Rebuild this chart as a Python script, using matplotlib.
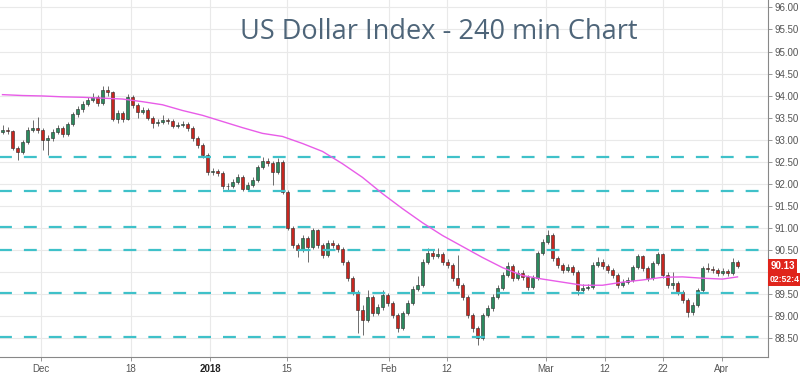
import matplotlib
matplotlib.use("Agg")
import matplotlib.pyplot as plt
import matplotlib.transforms as mtransforms
import numpy as np

# 240 min candles, Dec 2017 - Apr 2018 (one entry per candle)
first_open = 93.18
closes = [93.22, 93.19, 92.81, 92.72, 92.94, 93.22, 93.26, 93.22, 92.99, 93.03,
          93.17, 93.26, 93.13, 93.35, 93.58, 93.69, 93.81, 93.90, 93.97, 93.83,
          94.13, 94.08, 93.47, 93.60, 93.47, 93.97, 93.78, 93.63, 93.67, 93.49,
          93.38, 93.40, 93.44, 93.42, 93.31, 93.33, 93.35, 93.26, 93.03, 92.88,
          92.65, 92.26, 92.28, 92.24, 91.94, 91.94, 92.03, 92.15, 91.88, 91.97,
          92.08, 92.38, 92.51, 92.47, 92.26, 92.49, 91.81, 90.99, 90.60, 90.49,
          90.76, 90.56, 90.94, 90.60, 90.38, 90.65, 90.60, 90.51, 90.22, 89.85,
          89.53, 89.13, 88.90, 89.42, 89.06, 89.19, 89.47, 89.28, 89.01, 88.72,
          89.06, 89.28, 89.60, 89.69, 90.22, 90.42, 90.35, 90.40, 90.22, 90.15,
          89.85, 89.69, 89.42, 89.01, 88.72, 88.49, 89.01, 89.17, 89.42, 89.63,
          89.92, 90.13, 89.85, 89.97, 89.88, 89.65, 89.85, 90.42, 90.67, 90.83,
          90.31, 90.15, 90.03, 90.10, 89.99, 89.58, 89.63, 89.65, 90.15, 90.22,
          90.13, 90.03, 89.92, 89.69, 89.76, 89.81, 90.10, 90.35, 90.08, 89.85,
          90.19, 90.40, 89.92, 89.69, 89.74, 89.53, 89.35, 89.08, 89.24, 89.58,
          90.08, 90.06, 90.03, 89.97, 90.01, 89.97, 90.22, 90.13]
highs = [93.33, 93.28, 93.22, 92.86, 92.99, 93.28, 93.44, 93.51, 93.26, 93.10,
         93.24, 93.33, 93.30, 93.40, 93.63, 93.76, 93.88, 93.97, 94.06, 94.01,
         94.22, 94.22, 94.10, 93.67, 93.65, 94.03, 94.01, 93.83, 93.74, 93.72,
         93.53, 93.47, 93.56, 93.49, 93.47, 93.40, 93.42, 93.40, 93.30, 93.08,
         92.92, 92.69, 92.35, 92.33, 92.28, 92.01, 92.10, 92.22, 92.19, 92.03,
         92.15, 92.42, 92.60, 92.58, 92.51, 92.58, 92.53, 91.85, 91.03, 90.65,
         90.83, 90.81, 90.99, 90.97, 90.65, 90.72, 90.72, 90.65, 90.56, 90.26,
         89.90, 89.58, 89.24, 89.58, 89.47, 89.26, 89.58, 89.51, 89.33, 89.06,
         89.10, 89.35, 89.67, 89.90, 90.28, 90.53, 90.49, 90.53, 90.44, 90.28,
         90.19, 90.38, 89.74, 89.47, 89.06, 88.76, 89.06, 89.24, 89.49, 89.69,
         89.99, 90.22, 90.17, 90.03, 90.03, 89.92, 89.92, 90.47, 90.74, 90.94,
         90.88, 90.35, 90.19, 90.17, 90.15, 90.03, 89.72, 89.72, 90.22, 90.33,
         90.28, 90.17, 90.08, 89.97, 89.83, 89.88, 90.15, 90.40, 90.38, 90.12,
         90.24, 90.44, 90.42, 89.99, 89.99, 89.79, 89.58, 89.40, 89.31, 89.63,
         90.13, 90.19, 90.12, 90.08, 90.08, 90.06, 90.31, 90.26]
lows = [93.13, 93.12, 92.76, 92.53, 92.68, 92.90, 93.17, 93.15, 92.76, 92.65,
        92.97, 93.12, 93.06, 93.08, 93.31, 93.52, 93.63, 93.76, 93.85, 93.76,
        93.78, 93.99, 93.42, 93.38, 93.40, 93.44, 93.72, 93.49, 93.58, 93.44,
        93.26, 93.31, 93.35, 93.35, 93.26, 93.26, 93.28, 93.19, 92.97, 92.81,
        92.58, 92.19, 92.19, 92.17, 91.88, 91.85, 91.90, 91.99, 91.83, 91.83,
        91.92, 92.03, 92.33, 92.40, 91.97, 92.22, 91.76, 90.94, 90.53, 90.33,
        90.44, 90.22, 90.51, 90.53, 90.31, 90.33, 90.53, 90.44, 90.15, 89.79,
        89.47, 88.60, 88.56, 88.85, 88.99, 89.01, 89.13, 89.22, 88.94, 88.63,
        88.67, 89.01, 89.24, 89.56, 89.65, 90.17, 90.28, 90.31, 90.15, 90.08,
        89.79, 89.63, 89.35, 88.94, 88.63, 88.33, 88.44, 88.97, 89.10, 89.37,
        89.58, 89.88, 89.79, 89.81, 89.81, 89.58, 89.60, 89.81, 90.38, 90.62,
        90.24, 90.08, 89.97, 89.99, 89.92, 89.47, 89.53, 89.58, 89.60, 90.10,
        90.06, 89.97, 89.85, 89.63, 89.65, 89.72, 89.76, 90.06, 90.01, 89.79,
        89.81, 90.15, 89.85, 89.63, 89.60, 89.47, 89.28, 88.97, 89.01, 89.19,
        89.53, 89.99, 89.97, 89.90, 89.92, 89.90, 89.92, 90.08]

# moving average (magenta), sampled every few candles
ma_idx = [0, 4, 8, 12, 16, 20, 24, 28, 32, 36, 40, 44, 48, 52, 56, 60, 64, 68, 72,
          76, 80, 84, 88, 92, 96, 100, 104, 108, 112, 116, 120, 124, 128, 132,
          136, 140, 144, 147]
ma_val = [94.02, 94.00, 93.99, 93.97, 93.96, 93.94, 93.92, 93.86, 93.79, 93.66,
          93.55, 93.41, 93.27, 93.14, 93.07, 92.91, 92.73, 92.45, 92.14, 91.77,
          91.43, 91.11, 90.82, 90.57, 90.32, 90.09, 89.91, 89.83, 89.76, 89.69,
          89.69, 89.76, 89.81, 89.87, 89.88, 89.85, 89.83, 89.88]

# support / resistance levels
levels = [92.60, 91.83, 91.01, 90.49, 89.51, 88.51]

tick_pos = [7.7, 25.7, 41.5, 56.9, 77.3, 88.9, 108.7, 120.5, 132.1, 143.9]
tick_lab = ["Dec", "18", "2018", "15", "Feb", "12", "Mar", "12", "22", "Apr"]

last_price = "90.13"
countdown = "02:52:4"

fig = plt.figure(figsize=(8, 3.73), dpi=100)
ax = fig.add_axes([0, 16 / 373, 768 / 800, 357 / 373])

x = np.arange(len(closes))
c = np.array(closes)
o = np.concatenate([[first_open], c[:-1]])
up = c >= o
body_lo = np.minimum(o, c)
body_h = np.maximum(np.abs(c - o), 0.012)
colors = np.where(up, "#2b8a5e", "#c8261f")

ax.vlines(x, lows, highs, color="#555555", linewidth=0.6, zorder=2)
ax.bar(x, body_h, bottom=body_lo, width=0.7, color=colors,
       edgecolor="#2a2a2a", linewidth=0.4, zorder=2.5)

for lv in levels:
    ln, = ax.plot([-1, 160], [lv, lv], color="#3fc1c9", linewidth=1.6, zorder=3)
    ln.set_dashes([5.8, 5.4])

ax.plot(ma_idx, ma_val, color="#e85ce8", linewidth=1.0, zorder=4)

ax.set_xlim(-0.5, 153.1)
ax.set_ylim(88.06, 96.17)

# the 90.00 label sits under the price boxes, as on the reference
yt = np.arange(88.5, 96.01, 0.5)
ax.yaxis.tick_right()
ax.set_yticks(yt)
ax.set_yticklabels(["" if abs(v - 90.0) < 0.01 else "%.2f" % v for v in yt],
                   family="Liberation Sans")
ax.set_xticks(tick_pos)
ax.set_xticklabels(tick_lab, family="Liberation Sans")
ax.tick_params(axis="both", labelsize=7, labelcolor="#555555", color="#888888",
               length=3, width=0.6, pad=2)
for lbl in ax.get_xticklabels():
    if lbl.get_text() == "2018":
        lbl.set_color("#222222")
        lbl.set_fontweight("bold")

ax.grid(True, color="#e9e9e9", linewidth=0.8, zorder=0)
ax.set_axisbelow(True)
for s in ["top", "left"]:
    ax.spines[s].set_visible(False)
for s in ["right", "bottom"]:
    ax.spines[s].set_color("#888888")
    ax.spines[s].set_linewidth(0.8)

ax.text(0.572, 0.91, "US Dollar Index - 240 min Chart", transform=ax.transAxes,
        ha="center", va="center", fontsize=19.5, color="#4e6579",
        family="Open Sans")

tr = mtransforms.blended_transform_factory(ax.transAxes, ax.transData)
ax.text(1.003, float(last_price), last_price, transform=tr, ha="left", va="center",
        fontsize=7, fontweight="bold", color="white", clip_on=False,
        family="Liberation Sans",
        bbox=dict(boxstyle="square,pad=0.2", fc="#e0241b", ec="none"))
ax.text(1.002, 89.82, countdown, transform=tr, ha="left", va="center",
        fontsize=6.2, fontweight="bold", color="white", clip_on=False,
        family="Liberation Sans",
        bbox=dict(boxstyle="square,pad=0.2", fc="#e0241b", ec="none"))

fig.savefig("out.png", dpi=100)
